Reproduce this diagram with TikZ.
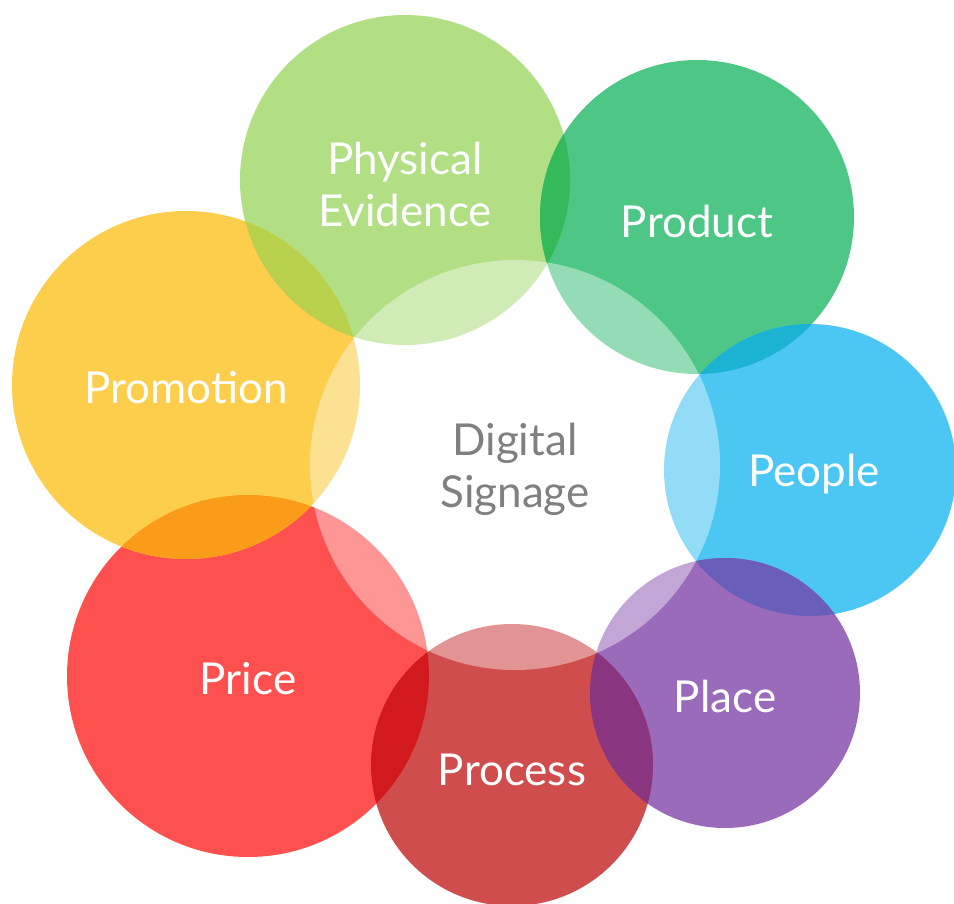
\documentclass[tikz,border=0pt]{standalone}
\usepackage{fontspec}
\setmainfont{Lato}
\definecolor{cPE}{HTML}{B2DE84}
\definecolor{cProd}{HTML}{4EC685}
\definecolor{cPeople}{HTML}{4CC6F2}
\definecolor{cPlace}{HTML}{9A6BBA}
\definecolor{cProc}{HTML}{D04D4D}
\definecolor{cPrice}{HTML}{FF5050}
\definecolor{cPromo}{HTML}{FCCE4C}
\definecolor{xPEProd}{HTML}{35BA5B}
\definecolor{xProdPeople}{HTML}{1BB3D1}
\definecolor{xPeoplePlace}{HTML}{695EB9}
\definecolor{xPlaceProc}{HTML}{8A3580}
\definecolor{xProcPrice}{HTML}{D2191E}
\definecolor{xPricePromo}{HTML}{FA9C1A}
\definecolor{xPromoPE}{HTML}{B9D04D}
\definecolor{hubtext}{HTML}{808080}
\tikzset{
  label/.style={text=white, align=center, font=\fontsize{44}{52}\selectfont, inner sep=0pt},
  hublabel/.style={label, text=hubtext},
}
% overlap of two discs: fill disc 2 clipped to disc 1
\newcommand\lens[5]{%
  \begin{scope}
    \clip (#1) circle[radius=#2];
    \fill[#5] (#3) circle[radius=#4];
  \end{scope}}
\begin{document}
\begin{tikzpicture}[x=1pt,y=-1pt]
\useasboundingbox (0,0) rectangle (954,904);
\clip (0,0) rectangle (954,904);
% disc centres
\coordinate (pe)     at (405,180);
\coordinate (prod)   at (697,217);
\coordinate (people) at (810,470);
\coordinate (place)  at (725,693);
\coordinate (proc)   at (512,765);
\coordinate (price)  at (248,676);
\coordinate (promo)  at (186,385);
\coordinate (hub)    at (515,465);
% discs
\fill[cPE]     (pe)     circle[radius=165pt];
\fill[cProd]   (prod)   circle[radius=157pt];
\fill[cPeople] (people) circle[radius=146pt];
\fill[cPlace]  (place)  circle[radius=135pt];
\fill[cProc]   (proc)   circle[radius=141pt];
\fill[cPrice]  (price)  circle[radius=181pt];
\fill[cPromo]  (promo)  circle[radius=174pt];
% overlaps
\lens{pe}{165pt}{prod}{157pt}{xPEProd}
\lens{prod}{157pt}{people}{146pt}{xProdPeople}
\lens{people}{146pt}{place}{135pt}{xPeoplePlace}
\lens{place}{135pt}{proc}{141pt}{xPlaceProc}
\lens{proc}{141pt}{price}{181pt}{xProcPrice}
\lens{price}{181pt}{promo}{174pt}{xPricePromo}
\lens{promo}{174pt}{pe}{165pt}{xPromoPE}
% translucent hub
\fill[white, opacity=0.4] (hub) circle[radius=205pt];
% labels
\node[label] (tPE)     at (405,184) {Physical\\Evidence};
\node[label] (tProd)   at (697,221) {Product};
\node[label] (tPromo)  at (186,388) {Promotion};
\node[label] (tPeople) at (814,474) {People};
\node[label] (tPrice)  at (248,679) {Price};
\node[label] (tPlace)  at (725,696) {Place};
\node[label] (tProc)   at (512,770) {Process};
\node[hublabel] (tHub) at (515,469) {Digital\\Signage};
\end{tikzpicture}
\end{document}
